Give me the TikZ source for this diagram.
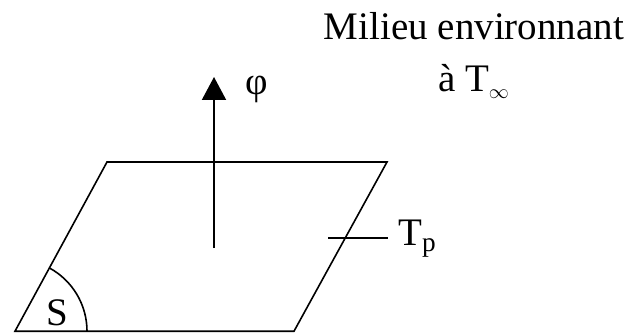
\documentclass[tikz,border=0pt]{standalone}
\usepackage{fontspec}
\setmainfont{Liberation Serif}
\usetikzlibrary{arrows.meta,positioning}

\begin{document}
\begin{tikzpicture}[x=0.5pt,y=0.5pt,line join=miter,
    surface/.style={line width=0.8pt},
    flux/.style={line width=1pt,-{Triangle[width=12pt,length=11.5pt]}},
    lbl/.style={inner sep=0pt,font=\fontsize{19.5}{26}\selectfont}]
  % Frame of the reference picture.
  \useasboundingbox (0,0) rectangle (630,332);

  % Flat surface (parallelogram) and its corner angle.
  \coordinate (bl) at (15,0.8);
  \coordinate (br) at (294,0.8);
  \coordinate (tr) at (387,170);
  \coordinate (tl) at (107,170);
  \draw[surface] (bl) -- (br) -- (tr) -- (tl) -- cycle;
  \draw[surface] (87,0.8) arc[start angle=0,end angle=61.4,radius=72];
  \node[lbl,anchor=base west] (s) at (46,7) {S};

  % Heat flux leaving the surface.
  \coordinate (foot) at (214,84);
  \coordinate (tip) at (214,255);
  \draw[flux] (foot) -- (tip);
  \node[lbl,anchor=base west] (phi) at (245,237) {φ};

  % Wall temperature.
  \coordinate (tick) at (328,94);
  \coordinate (tickend) at (388,94);
  \node[lbl,anchor=base west] (tp) at (398,87) {T\textsubscript{p}};
  \draw[surface] (tick) -- (tickend);
  % Surrounding medium.
  \node[lbl,anchor=base] (milieu) at (474,292) {Milieu environnant};
  \node[lbl,anchor=base] (infini) at (474,240) {à T\textsubscript{$\scriptstyle\infty$}};
\end{tikzpicture}
\end{document}
